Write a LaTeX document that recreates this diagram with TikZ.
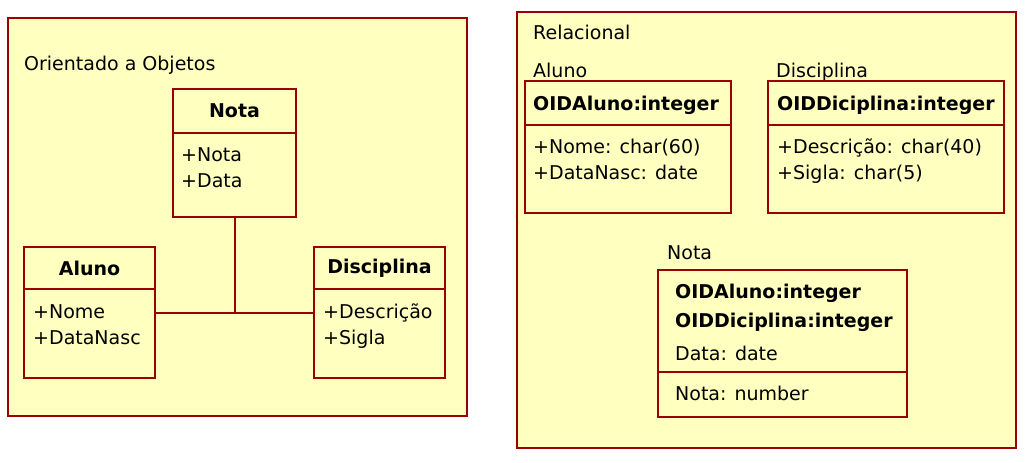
\documentclass[tikz,border=0pt]{standalone}
\usepackage{fontspec}
\setmainfont{DejaVu Sans}
\usepackage{tikz}
\usetikzlibrary{positioning}
\usepackage{xcolor}
\definecolor{umlborda}{RGB}{153,0,0}
\definecolor{umlfundo}{RGB}{255,255,192}

\tikzset{
  quadro/.style={draw=umlborda, fill=umlfundo, line width=2pt},
  caixa/.style={draw=umlborda, fill=umlfundo, line width=2pt, anchor=north west, inner sep=0pt, outer sep=0pt},
  texto/.style={anchor=base west, inner sep=0pt},
  ligacao/.style={draw=umlborda, line width=2pt}
}

\begin{document}
\begin{tikzpicture}[x=1pt, y=-1pt, font=\fontsize{19}{24}\selectfont]
    \useasboundingbox (0,0) rectangle (1028,463);
    % Quadros
    \draw[quadro] (8,18) rectangle (467,416);
    \draw[quadro] (517,12) rectangle (1016,448);
    \node[texto] (tituloOO) at (24,70) {Orientado a Objetos};
    \node[texto] (tituloRel) at (533,39) {Relacional};

    % Orientado a objetos: classes
    \node[caixa, minimum width=123, minimum height=44, font=\fontsize{19}{24}\selectfont\bfseries] (notaCab) at (173,89) {Nota};
    \node[caixa, minimum width=123, minimum height=84] (notaCorpo) at (notaCab.south west) {};
    \node[caixa, minimum width=131, minimum height=42, font=\fontsize{19}{24}\selectfont\bfseries] (alunoCab) at (24,247) {Aluno};
    \node[caixa, minimum width=131, minimum height=89] (alunoCorpo) at (alunoCab.south west) {};
    \node[caixa, minimum width=131, minimum height=42, font=\fontsize{19}{24}\selectfont\bfseries] (discCab) at (314,247) {Disciplina};
    \node[caixa, minimum width=131, minimum height=89] (discCorpo) at (discCab.south west) {};
    % Atributos
    \foreach \t [count=\i] in {+Nota, +Data}
        \node[texto] (notaAtr\i) at (181,135+26*\i) {\t};
    \foreach \t [count=\i] in {+Nome, +DataNasc}
        \node[texto] (alunoAtr\i) at (33,292+26*\i) {\t};
    \foreach \t [count=\i] in {+Descrição, +Sigla}
        \node[texto] (discAtr\i) at (323,292+26*\i) {\t};
    % Associacao
    \coordinate (juncao) at (notaCorpo.south |- 0,313);
    \draw[ligacao] (notaCorpo.south) -- (juncao);
    \draw[ligacao] (alunoCorpo.east |- juncao) -- (discCorpo.west |- juncao);

    % Relacional: tabelas
    \node[texto] (alunoNome) at (533,77) {Aluno};
    \node[caixa, minimum width=206, minimum height=44] (alunoTab) at (525,81) {};
    \node[caixa, minimum width=206, minimum height=88] (alunoCol) at (alunoTab.south west) {};
    \node[texto, font=\fontsize{19}{24}\selectfont\bfseries] (alunoChave) at (533,110) {OIDAluno:integer};
    \foreach \t [count=\i] in {+Nome: char(60), +DataNasc: date}
        \node[texto] (alunoColAtr\i) at (533,127+26*\i) {\t};

    \node[texto] (discNome) at (776,77) {Disciplina};
    \node[caixa, minimum width=236, minimum height=44] (discTab) at (768,81) {};
    \node[caixa, minimum width=236, minimum height=88] (discCol) at (discTab.south west) {};
    \node[texto, font=\fontsize{19}{24}\selectfont\bfseries] (discChave) at (777,110) {OIDDiciplina:integer};
    \foreach \t [count=\i] in {+Descrição: char(40), +Sigla: char(5)}
        \node[texto] (discColAtr\i) at (777,127+26*\i) {\t};

    \node[texto] (notaNome) at (667,259) {Nota};
    \node[caixa, minimum width=249, minimum height=102] (notaTab) at (658,270) {};
    \node[caixa, minimum width=249, minimum height=45] (notaCol) at (notaTab.south west) {};
    \node[texto, font=\fontsize{19}{24}\selectfont\bfseries] (notaChave1) at (675,298) {OIDAluno:integer};
    \node[texto, font=\fontsize{19}{24}\selectfont\bfseries] (notaChave2) at (675,327) {OIDDiciplina:integer};
    \node[texto] (notaData) at (675,360) {Data: date};
    \node[texto] (notaValor) at (675,400) {Nota: number};
\end{tikzpicture}
\end{document}
